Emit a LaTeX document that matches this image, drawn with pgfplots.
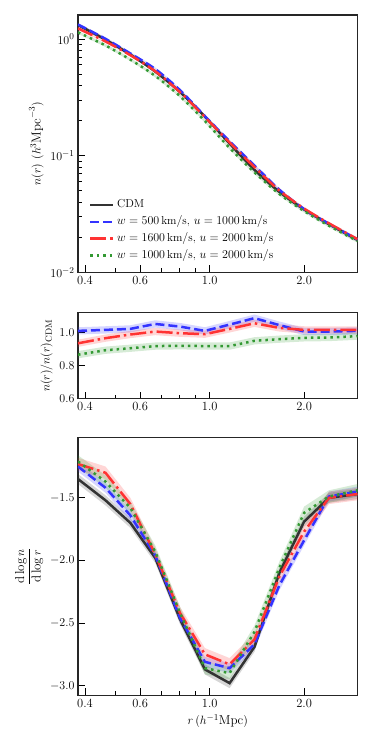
\documentclass[border=0pt]{standalone}
\usepackage{fontspec}
\usepackage{amsmath}
\usepackage{pgfplots}
\usepackage{pgfplotstable}
\pgfplotsset{compat=1.18}

\definecolor{cblack}{RGB}{51,51,51}
\definecolor{cblue}{RGB}{51,51,255}
\definecolor{cred}{RGB}{255,51,51}
\definecolor{cgreen}{RGB}{51,153,51}

% each table: rows 0-11 ascending in r (s=1), rows 12-23 the same points
% backwards (s=-1), so that a band can be filled as one closed path

% number density
\pgfplotstableread{
r     cdm     blue    red     green   s
0.38  1.318   1.331   1.232   1.141   1
0.465 0.987   1.003   0.953   0.881   1
0.558 0.736   0.752   0.727   0.666   1
0.670 0.526   0.553   0.529   0.483   1
0.804 0.351   0.364   0.350   0.323   1
0.965 0.216   0.218   0.214   0.198   1
1.157 0.1268  0.1329  0.1296  0.1164  1
1.389 0.0756  0.0822  0.0798  0.0718  1
1.667 0.0489  0.0511  0.0503  0.0469  1
2.0   0.0346  0.0348  0.0352  0.0335  1
2.4   0.02586 0.02602 0.02627 0.02508 1
2.96  0.01893 0.01912 0.01923 0.01851 1
2.96  0.01893 0.01912 0.01923 0.01851 -1
2.4   0.02586 0.02602 0.02627 0.02508 -1
2.0   0.0346  0.0348  0.0352  0.0335  -1
1.667 0.0489  0.0511  0.0503  0.0469  -1
1.389 0.0756  0.0822  0.0798  0.0718  -1
1.157 0.1268  0.1329  0.1296  0.1164  -1
0.965 0.216   0.218   0.214   0.198   -1
0.804 0.351   0.364   0.350   0.323   -1
0.670 0.526   0.553   0.529   0.483   -1
0.558 0.736   0.752   0.727   0.666   -1
0.465 0.987   1.003   0.953   0.881   -1
0.38  1.318   1.331   1.232   1.141   -1
}\tabdens

% ratio to CDM
\pgfplotstableread{
r     blue   red    green  s
0.38  1.010  0.935  0.866  1
0.465 1.016  0.966  0.893  1
0.558 1.022  0.988  0.905  1
0.670 1.052  1.006  0.918  1
0.804 1.036  0.996  0.920  1
0.965 1.010  0.990  0.918  1
1.157 1.048  1.022  0.918  1
1.389 1.087  1.056  0.950  1
1.667 1.045  1.028  0.960  1
2.0   1.006  1.016  0.968  1
2.4   1.006  1.016  0.970  1
2.96  1.010  1.016  0.978  1
2.96  1.010  1.016  0.978  -1
2.4   1.006  1.016  0.970  -1
2.0   1.006  1.016  0.968  -1
1.667 1.045  1.028  0.960  -1
1.389 1.087  1.056  0.950  -1
1.157 1.048  1.022  0.918  -1
0.965 1.010  0.990  0.918  -1
0.804 1.036  0.996  0.920  -1
0.670 1.052  1.006  0.918  -1
0.558 1.022  0.988  0.905  -1
0.465 1.016  0.966  0.893  -1
0.38  1.010  0.935  0.866  -1
}\tabratio

% logarithmic slope
\pgfplotstableread{
r     cdm    blue   red    green  s
0.38  -1.35  -1.25  -1.23  -1.21  1
0.465 -1.52  -1.42  -1.30  -1.37  1
0.558 -1.70  -1.64  -1.55  -1.58  1
0.670 -1.98  -1.96  -1.95  -1.93  1
0.804 -2.47  -2.46  -2.42  -2.42  1
0.965 -2.87  -2.81  -2.75  -2.86  1
1.157 -2.98  -2.86  -2.83  -2.90  1
1.389 -2.69  -2.67  -2.63  -2.57  1
1.667 -2.10  -2.20  -2.13  -2.06  1
2.0   -1.69  -1.84  -1.77  -1.62  1
2.4   -1.50  -1.49  -1.50  -1.49  1
2.96  -1.47  -1.45  -1.47  -1.44  1
2.96  -1.47  -1.45  -1.47  -1.44  -1
2.4   -1.50  -1.49  -1.50  -1.49  -1
2.0   -1.69  -1.84  -1.77  -1.62  -1
1.667 -2.10  -2.20  -2.13  -2.06  -1
1.389 -2.69  -2.67  -2.63  -2.57  -1
1.157 -2.98  -2.86  -2.83  -2.90  -1
0.965 -2.87  -2.81  -2.75  -2.86  -1
0.804 -2.47  -2.46  -2.42  -2.42  -1
0.670 -1.98  -1.96  -1.95  -1.93  -1
0.558 -1.70  -1.64  -1.55  -1.58  -1
0.465 -1.52  -1.42  -1.30  -1.37  -1
0.38  -1.35  -1.25  -1.23  -1.21  -1
}\tabslope

\pgfplotsset{
  every axis/.append style={
    scale only axis, width=279.5pt, anchor=south west,
    xmin=0.38, xmax=2.96,
    xtick={0.4,0.6,1,2}, xticklabels={0.4,0.6,1.0,2.0},
    minor xtick={0.5,0.7,0.8,0.9},
    tick align=inside, xtick pos=left, ytick pos=left,
    major tick length=7pt, minor tick length=4pt,
    every tick/.style={black, line width=0.8pt},
    axis line style={black!85, line width=1.2pt},
    tick label style={font=\fontsize{12.5}{14}\selectfont},
    label style={font=\fontsize{13}{15}\selectfont},
  },
  band/.style={fill=#1, fill opacity=0.2, draw=none, forget plot},
  half/.style={skip coords between index={12}{24}},
  lcdm/.style={cblack, line width=2.5pt, half},
  lwa/.style={cblue, line width=2.5pt, half, dash pattern=on 9pt off 4pt},
  lwb/.style={cred, line width=2.5pt, half, dash pattern=on 16pt off 4pt on 2.5pt off 4pt},
  lwc/.style={cgreen, line width=2.5pt, half, dash pattern=on 2.5pt off 4pt},
}

\begin{document}
\begin{tikzpicture}
\path[use as bounding box] (0pt,0pt) rectangle (374pt,747pt);

\begin{axis}[xmode=log, at={(78pt,474.7pt)}, height=257.3pt,
    ymode=log, ymin=0.01, ymax=1.607, ytick={0.01,0.1,1},
    minor ytick={0.02,0.03,0.04,0.05,0.06,0.07,0.08,0.09,0.2,0.3,0.4,0.5,0.6,0.7,0.8,0.9},
    ylabel={$n(r)\ (h^{3}\mathrm{Mpc}^{-3})$},
    legend cell align=left,
    legend image code/.code={\draw[#1] (0pt,0pt) -- (23pt,0pt);},
    legend style={draw=none, fill=none, at={(0.028,0.025)}, anchor=south west,
      font=\fontsize{11.5}{13}\selectfont,
      nodes={inner sep=2.6pt, text height=8.5pt, text depth=3pt}}]
\addplot[band=cblack, smooth] table[x=r, y expr=\thisrow{cdm}*(1+0.03*\thisrow{s})]{\tabdens};
\addplot[band=cblue, smooth] table[x=r, y expr=\thisrow{blue}*(1+0.03*\thisrow{s})]{\tabdens};
\addplot[band=cred, smooth] table[x=r, y expr=\thisrow{red}*(1+0.03*\thisrow{s})]{\tabdens};
\addplot[band=cgreen, smooth] table[x=r, y expr=\thisrow{green}*(1+0.03*\thisrow{s})]{\tabdens};
\addplot[lcdm, smooth] table[x=r, y=cdm]{\tabdens};
\addlegendentry{CDM}
\addplot[lwa, smooth] table[x=r, y=blue]{\tabdens};
\addlegendentry{$w=500\,\mathrm{km/s}$, $u=1000\,\mathrm{km/s}$}
\addplot[lwb, smooth] table[x=r, y=red]{\tabdens};
\addlegendentry{$w=1600\,\mathrm{km/s}$, $u=2000\,\mathrm{km/s}$}
\addplot[lwc, smooth] table[x=r, y=green]{\tabdens};
\addlegendentry{$w=1000\,\mathrm{km/s}$, $u=2000\,\mathrm{km/s}$}
\end{axis}

\begin{axis}[xmode=log, at={(78pt,348.3pt)}, height=86pt,
    ymin=0.6, ymax=1.12, ytick={0.6,0.8,1.0},
    yticklabel style={/pgf/number format/.cd, fixed, fixed zerofill, precision=1},
    ylabel={$n(r)/n(r)_{\mathrm{CDM}}$}]
\addplot[band=cblue] table[x=r, y expr=\thisrow{blue}+0.022*\thisrow{s}]{\tabratio};
\addplot[band=cred] table[x=r, y expr=\thisrow{red}+0.022*\thisrow{s}]{\tabratio};
\addplot[band=cgreen] table[x=r, y expr=\thisrow{green}+0.022*\thisrow{s}]{\tabratio};
\addplot[lwa] table[x=r, y=blue]{\tabratio};
\addplot[lwb] table[x=r, y=red]{\tabratio};
\addplot[lwc] table[x=r, y=green]{\tabratio};
\end{axis}

\begin{axis}[xmode=log, at={(78pt,51.7pt)}, height=257.6pt,
    ymin=-3.077, ymax=-1.02, ytick={-3,-2.5,-2,-1.5},
    yticklabel style={/pgf/number format/.cd, fixed, fixed zerofill, precision=1},
    xlabel={$r\,(h^{-1}\mathrm{Mpc})$},
    ylabel={$\dfrac{\mathrm{d}\log n}{\mathrm{d}\log r}$}]
\addplot[band=cblack] table[x=r, y expr=\thisrow{cdm}+0.04*\thisrow{s}]{\tabslope};
\addplot[band=cblue] table[x=r, y expr=\thisrow{blue}+0.04*\thisrow{s}]{\tabslope};
\addplot[band=cred] table[x=r, y expr=\thisrow{red}+0.05*\thisrow{s}]{\tabslope};
\addplot[band=cgreen] table[x=r, y expr=\thisrow{green}+0.05*\thisrow{s}]{\tabslope};
\addplot[lcdm] table[x=r, y=cdm]{\tabslope};
\addplot[lwa] table[x=r, y=blue]{\tabslope};
\addplot[lwb] table[x=r, y=red]{\tabslope};
\addplot[lwc] table[x=r, y=green]{\tabslope};
\end{axis}
\end{tikzpicture}
\end{document}
